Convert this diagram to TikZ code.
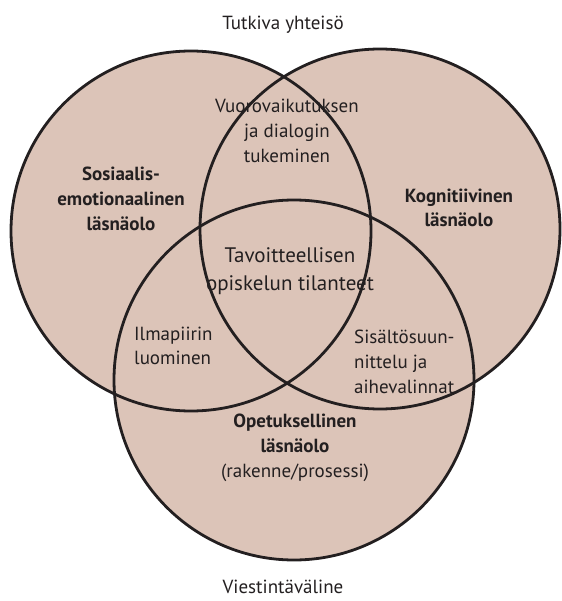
\documentclass[tikz,border=0pt]{standalone}
\usepackage{fontspec}
\setmainfont{PT Sans}
\definecolor{VennFill}{RGB}{220,196,184}
\definecolor{VennLine}{RGB}{35,31,32}
\usetikzlibrary{positioning}

\begin{document}
\begin{tikzpicture}[x=1pt, y=-1pt,
                ring/.style={draw=VennLine, line width=2.8pt},
                txt/.style={inner sep=0pt, align=center, text=VennLine, font=\fontsize{19}{24.7}\selectfont},
                head/.style={txt, font=\fontsize{19}{24.7}\selectfont\bfseries},
                core/.style={txt, font=\fontsize{21}{28.5}\selectfont}]

                \useasboundingbox (0,0) rectangle (561,601);

                % Circle centres
                \coordinate (cl) at (191,231);
                \coordinate (cr) at (380,229);
                \coordinate (cb) at (294,380);

                % Fills first, outlines on top
                \fill[VennFill] (cl) circle[radius=180] (cr) circle[radius=180] (cb) circle[radius=180];
                \draw[ring] (cl) circle[radius=180];
                \draw[ring] (cr) circle[radius=180];
                \draw[ring] (cb) circle[radius=180];

                % Outer labels
                \node[txt] (tutkiva) at (283,25) {Tutkiva yhteisö};
                \node[txt] (viesti) at (283,587) {Viestintäväline};

                % Presences
                \node[head] (sosem) at (121,199) {Sosiaalis-\\emotionaalinen\\läsnäolo};
                \node[head] (kogn) at (459,208) {Kognitiivinen\\läsnäolo};
                \node[head] (opet) at (295,448) {Opetuksellinen\\läsnäolo\\\mdseries(rakenne/prosessi)};

                % Overlaps
                \node[txt] (vuoro) at (287,131) {Vuorovaikutuksen\\ja dialogin\\tukeminen};
                \node[txt, align=left, anchor=west] (ilma) at (134,346) {Ilmapiirin\\luominen};
                \node[txt, align=left, anchor=west] (sisal) at (354,362) {Sisältösuun-\\nittelu ja\\aihevalinnat};
                \node[core] (tavo) at (290,271) {Tavoitteellisen\\opiskelun tilanteet};
\end{tikzpicture}
\end{document}
